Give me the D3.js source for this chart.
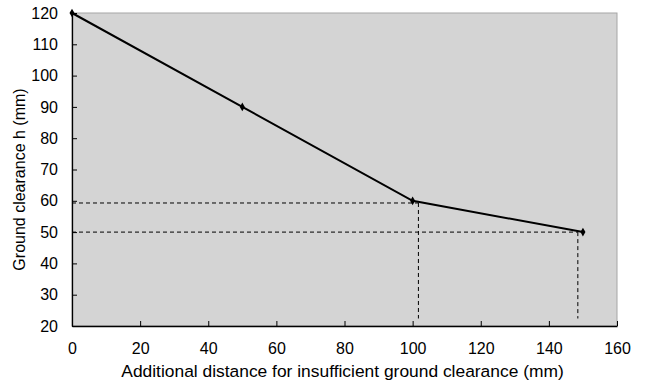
<!DOCTYPE html>
<html>
<head>
<meta charset="utf-8">
<script src="https://cdn.jsdelivr.net/npm/d3@7.9.0/dist/d3.min.js"></script>
<style>
  body { margin: 0; background: #fff; }
  text { font-family: "Liberation Sans", Arial, sans-serif; fill: #000; }
</style>
</head>
<body>
<div id="chart"></div>
<script>
// data
const distance = [0, 50, 100, 150];          // mm, x
const clearance = [120, 90, 60, 50];         // mm, y
const xTicks = [0, 20, 40, 60, 80, 100, 120, 140, 160];
const yTicks = [20, 30, 40, 50, 60, 70, 80, 90, 100, 110, 120];
// dashed guide lines: [x, y] where the guides meet
const guides = [[101.7, 59.3], [148.5, 50]];
const guideBottom = 22.4;

const W = 647, H = 382;
const margin = { top: 13, right: 30, bottom: 56, left: 72 };
const innerW = W - margin.left - margin.right;
const innerH = H - margin.top - margin.bottom;

const svg = d3.select("#chart").append("svg")
  .attr("width", W).attr("height", H);

const g = svg.append("g")
  .attr("transform", `translate(${margin.left},${margin.top})`);

const x = d3.scaleLinear().domain([0, 160]).range([0, innerW]);
const y = d3.scaleLinear().domain([20, 120]).range([innerH, 0]);

// plot background + light frame
g.append("rect")
  .attr("width", innerW).attr("height", innerH)
  .attr("fill", "#d4d4d4")
  .attr("stroke", "#a6a6a6").attr("stroke-width", 1);

// axes (ticks pointing inside)
const xAxis = g.append("g")
  .attr("transform", `translate(0,${innerH})`)
  .call(d3.axisBottom(x).tickValues(xTicks).tickSizeInner(-5).tickSizeOuter(0).tickPadding(17));
const yAxis = g.append("g")
  .call(d3.axisLeft(y).tickValues(yTicks).tickSizeInner(-5).tickSizeOuter(0).tickPadding(14));

[xAxis, yAxis].forEach(a => {
  a.select(".domain").attr("stroke", "#000").attr("stroke-width", 1.3);
  a.selectAll(".tick line").attr("stroke", "#000");
  a.selectAll(".tick text").style("font-size", "16px").attr("fill", "#000");
});

// dashed guides
guides.forEach(([gx, gy]) => {
  g.append("line")
    .attr("x1", x(0)).attr("x2", x(gx))
    .attr("y1", y(gy)).attr("y2", y(gy))
    .attr("stroke", "#000").attr("stroke-width", 1).attr("stroke-dasharray", "4,3");
  g.append("line")
    .attr("x1", x(gx)).attr("x2", x(gx))
    .attr("y1", y(gy)).attr("y2", y(guideBottom))
    .attr("stroke", "#000").attr("stroke-width", 1).attr("stroke-dasharray", "4,3");
});

// the curve
const pts = distance.map((d, i) => ({ d, h: clearance[i] }));
g.append("path")
  .datum(pts)
  .attr("fill", "none")
  .attr("stroke", "#000")
  .attr("stroke-width", 2)
  .attr("d", d3.line().x(p => x(p.d)).y(p => y(p.h)));

g.selectAll("path.marker")
  .data(pts)
  .join("path")
  .attr("class", "marker")
  .attr("transform", p => `translate(${x(p.d)},${y(p.h)})`)
  .attr("d", d3.symbol().type(d3.symbolDiamond).size(22))
  .attr("fill", "#000");

// axis titles
svg.append("text")
  .attr("x", margin.left + innerW / 2 - 2)
  .attr("y", 377)
  .attr("text-anchor", "middle")
  .style("font-size", "17.4px")
  .text("Additional distance for insufficient ground clearance (mm)");

svg.append("text")
  .attr("transform", `translate(25,${margin.top + innerH / 2 + 10}) rotate(-90)`)
  .attr("text-anchor", "middle")
  .style("font-size", "16px")
  .text("Ground clearance h (mm)");
</script>
</body>
</html>
